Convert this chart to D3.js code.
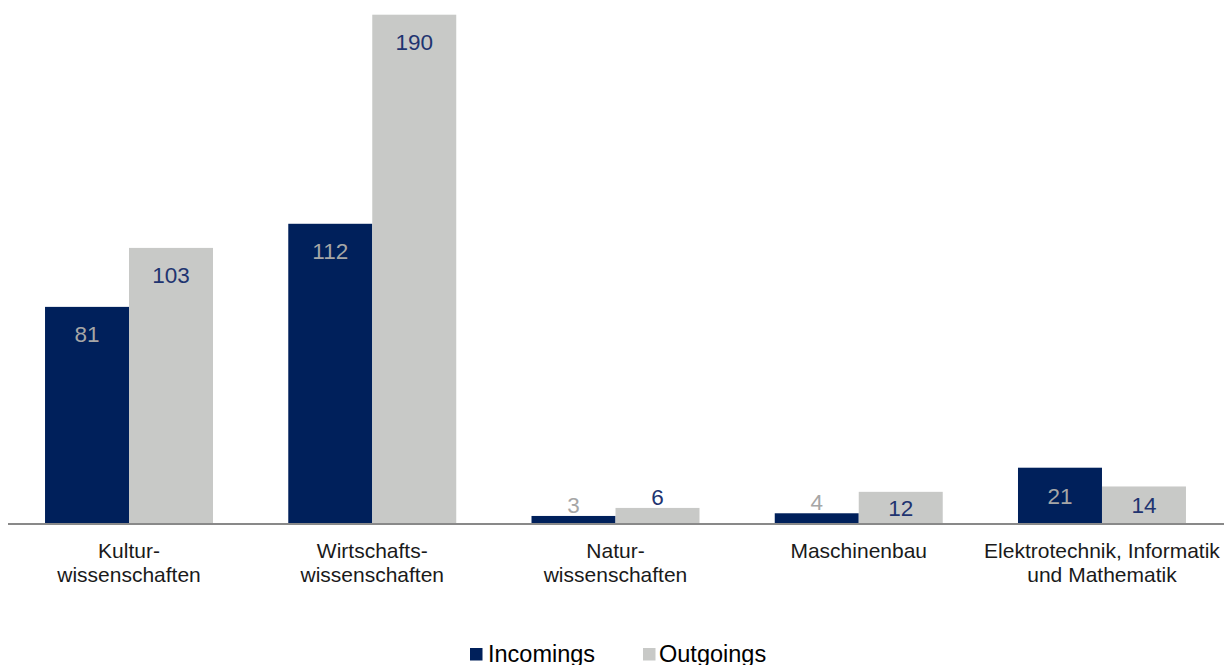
<!DOCTYPE html>
<html><head><meta charset="utf-8">
<script src="https://cdn.jsdelivr.net/npm/d3@7/dist/d3.min.js"></script>
<style>body{margin:0;background:#fff;}svg{display:block;}text{font-family:"Liberation Sans",Arial,sans-serif;}</style>
</head><body>
<svg id="c" width="1229" height="665"></svg>
<script>
const categories = [["Kultur-","wissenschaften"],["Wirtschafts-","wissenschaften"],["Natur-","wissenschaften"],["Maschinenbau"],["Elektrotechnik, Informatik","und Mathematik"]];
const seriesNames = ["Incomings","Outgoings"];
const incomings = [81,112,3,4,21];
const outgoings = [103,190,6,12,14];
const colors = ["#00205B","#C8C9C7"];
const labelColors = ["#A6A6A6","#1F3470"];

const svg = d3.select("#c");
const cats = categories.map(c=>c.join(" "));
const x0 = d3.scaleBand().domain(cats).range([7.4,1223.6]).paddingInner(0).paddingOuter(0);
const x1 = d3.scaleBand().domain(seriesNames).range([0,x0.bandwidth()]).paddingInner(0).paddingOuter(0.448);
const y = d3.scaleLinear().domain([0,190]).range([524,14.7]);
const base = y(0);

const data = cats.map((c,i)=>({cat:c, vals:[incomings[i],outgoings[i]]}));

const g = svg.append("g");
data.forEach(d=>{
  d.vals.forEach((v,j)=>{
    const s = seriesNames[j];
    const bx = x0(d.cat)+x1(s);
    g.append("rect").attr("x",bx).attr("y",y(v)).attr("width",x1.bandwidth()).attr("height",base-y(v)).attr("fill",colors[j]);
    const h = base-y(v);
    let ly;
    if (h>=60) ly = y(v)+35;
    else if (h>=20) ly = Math.min((y(v)+base)/2+8, base-3);
    else ly = y(v)-3;
    g.append("text").attr("x",bx+x1.bandwidth()/2).attr("y",ly).attr("text-anchor","middle")
      .attr("font-size",22.5).attr("fill",labelColors[j]).text(v);
  });
});

svg.append("line").attr("x1",8).attr("x2",1224).attr("y1",base).attr("y2",base).attr("stroke","#898989").attr("stroke-width",2);

categories.forEach((lines,i)=>{
  const cx = x0(cats[i])+x0.bandwidth()/2;
  const t = svg.append("text").attr("text-anchor","middle").attr("font-size",21).attr("fill","#1a1a1a");
  lines.forEach((l,k)=>t.append("tspan").attr("x",cx).attr("y",557.5+k*24.5).text(l));
});

// legend
const leg = svg.append("g");
const legItems = [{x:470,tx:488},{x:643,tx:659}];
seriesNames.forEach((s,j)=>{
  leg.append("rect").attr("x",legItems[j].x).attr("y",648).attr("width",12.5).attr("height",12.5).attr("fill",colors[j]);
  leg.append("text").attr("x",legItems[j].tx).attr("y",661.5).attr("font-size",23.5).attr("fill","#000").text(s);
});
</script>
</body></html>
